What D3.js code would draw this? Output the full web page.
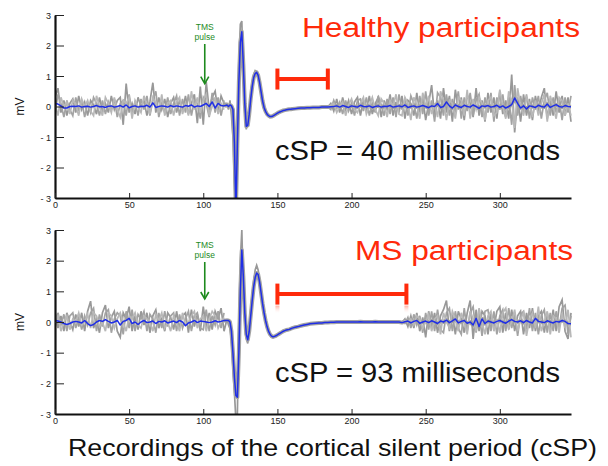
<!DOCTYPE html>
<html><head><meta charset="utf-8">
<script src="https://cdn.jsdelivr.net/npm/d3@7"></script>
<style>body{margin:0;background:#fff}svg{display:block}</style>
</head><body>
<svg id="c" width="608" height="466"></svg>
<script>
// ---------- data ----------
const xTicks = [0,50,100,150,200,250,300];
const yTicks = [-3,-2,-1,0,1,2,3];
const panelTitles = ["Healthy participants","MS participants"];
const cspLabels = ["cSP = 40 milliseconds","cSP = 93 milliseconds"];
const caption = "Recordings of the cortical silent period (cSP)";
const tmsTime = [101,101];
const barStart = [150,150];
const barEnd = [184,237];
const barLevel = [0.9,0.91];
const postStart = [186,236];

// sample grids (ms)
const preT = d3.range(0,116,2);
const mepT = d3.range(116,160,1);
const postT = d3.range(160,350,2);

// ---- Healthy ----
const hBluePre = [0.1,0.08,0.02,-0.05,-0.05,0.0,0.01,0.0,0.02,-0.02, 0.0,0.01,-0.02,0.0,0.03,-0.01,0.0,-0.03,0.01,0.02, -0.02,0.0,0.03,-0.02,0.05,-0.04,0.0,0.02,-0.02,0.01, 0.0,0.04,-0.02,0.12,-0.03,0.0,0.02,0.01,-0.02,0.03, -0.01,0.02,0.0,-0.02,0.03,0.01,0.05,-0.02,0.02,0.0, 0.05,0.1,0.0,0.15,-0.05,0.1,0.03,0.02];
const hBlueMep = [0.05,0.0,0.05,0.02,-0.1,-1.2,-3.5,-1.2,0.8,2.1, 2.45,1.4,0.1,-0.65,-0.62,-0.25,0.25,0.65,0.95,1.08, 1.12,1.02,0.78,0.48,0.18,-0.03,-0.16,-0.25,-0.3,-0.33, -0.33,-0.31,-0.28,-0.25,-0.22,-0.19,-0.17,-0.15,-0.13,-0.12, -0.11,-0.1,-0.09,-0.09];
const hBluePost = [-0.08,-0.07,-0.06,-0.05,-0.05,-0.04,-0.04,-0.03,-0.03,-0.03,-0.02,-0.02,-0.02,-0.01,0.0,0.02,-0.02,0.03,0.0,-0.03,
 0.02,0.0,-0.02,0.04,0.0,-0.01,0.02,-0.03,0.0,0.02,-0.02,0.01,0.0,0.03,-0.02,0.0,0.02,-0.01,0.05,-0.03,
 0.0,0.02,-0.02,0.0,0.03,0.0,-0.04,0.02,0.0,0.1,-0.03,0.0,0.15,0.02,-0.05,0.05,0.0,-0.03,0.04,0.0,
 -0.02,0.05,0.0,-0.06,0.02,0.0,0.03,-0.02,0.0,0.04,-0.03,0.02,-0.05,0.0,0.06,0.28,0.1,-0.05,0.02,-0.08,
 0.02,0.0,-0.03,0.04,0.0,-0.02,0.08,-0.03,0.02,0.06,0.0,-0.02,0.03,0.0,-0.01];
const hGrayMep = [0.1,-0.1,0.2,-0.3,-1.0,-2.5,-3.5,-0.5,1.5,2.7, 2.8,1.0,-0.2,-0.75,-0.5,-0.1,0.4,0.8,1.05,1.18, 1.15,0.95,0.7,0.4,0.1,-0.1,-0.2,-0.28,-0.33,-0.36, -0.35,-0.33,-0.3,-0.27,-0.24,-0.21,-0.18,-0.16,-0.14,-0.13, -0.12,-0.11,-0.1,-0.1];
const hGrayPreA = [0.3,0.6,-0.2,0.2,-0.3,0.1,0.25,-0.2,0.35,-0.1, 0.15,-0.3,0.2,0.05,-0.25,0.3,-0.15,0.1,-0.2,0.35, -0.1,0.2,0.3,-0.6,0.75,-0.2,0.1,-0.25,0.3,0.0, 0.2,-0.3,0.15,0.78,-0.2,0.3,-0.1,0.25,-0.35,0.1, 0.3,-0.2,0.2,-0.15,0.35,-0.25,0.1,0.4,-0.55,0.65, -0.6,0.8,-0.1,0.3,0.5,-0.2,0.35,0.1];
const hGrayPreB = [-0.2,0.4,0.1,-0.35,0.2,-0.1,-0.3,0.3,-0.15,0.2, -0.35,0.1,-0.2,0.3,0.1,-0.3,0.2,-0.25,0.15,-0.1, 0.25,-0.35,0.1,0.2,-0.3,0.4,-0.2,0.15,-0.3,0.25, -0.1,0.35,-0.3,0.2,0.5,-0.35,0.1,-0.2,0.3,-0.25, 0.1,0.35,-0.3,0.25,-0.2,0.4,-0.3,0.2,0.1,-0.4, 0.3,0.1,-0.35,0.45,-0.2,0.3,-0.3,0.2];
const hGrayPreC = [0.1,-0.3,0.3,0.0,0.15,-0.25,0.2,0.05,-0.3,0.25, 0.0,0.2,-0.15,-0.3,0.35,0.0,-0.3,0.3,0.1,-0.2, 0.3,-0.1,-0.35,0.2,0.1,0.3,-0.4,0.2,0.0,-0.2, 0.35,0.05,-0.25,0.3,0.1,-0.2,0.4,-0.3,0.1,0.2, -0.3,0.15,0.3,-0.25,0.1,-0.3,0.5,-0.1,0.3,-0.2, 0.2,0.4,-0.3,0.0,0.3,-0.25,0.1,-0.1];
const hGrayPostA = [0.1,-0.15,0.25,-0.2,0.3,-0.1,0.2,-0.25,0.15,0.3, -0.3,0.2,-0.1,0.35,-0.25,0.1,0.3,-0.35,0.2,-0.1, 0.4,-0.3,0.15,-0.2,0.35,-0.4,0.2,0.1,-0.3,0.45, -0.2,0.3,-0.45,0.1,0.7,-0.3,0.2,-0.4,0.6,-0.2, 0.35,-0.5,0.55,-0.1,0.3,-0.45,0.4,0.1,-0.35,0.6, -0.3,0.2,-0.5,0.45,-0.2,0.3,-0.4,0.5,-0.25,0.2, -0.4,1.05,-0.85,0.3,-0.5,0.4,-0.3,0.25,-0.45,0.35, -0.2,0.3,0.6,-0.4,0.2,-0.3,0.5,-0.2,0.35,-0.3, 0.3,-0.5];
const hGrayPostB = [-0.1,0.2,-0.05,0.15,-0.25,0.2,-0.15,0.1,-0.3,0.2, 0.25,-0.15,0.3,-0.3,0.1,-0.2,0.35,0.05,-0.3,0.25, -0.25,0.3,-0.35,0.4,-0.1,0.25,-0.3,0.35,0.1,-0.4, 0.35,-0.25,0.5,-0.3,0.2,-0.5,0.45,0.3,-0.3,0.4, -0.3,0.25,-0.2,0.5,-0.4,0.3,-0.15,0.45,-0.3,0.2, 0.4,-0.35,0.3,-0.2,0.45,-0.5,0.3,-0.1,0.4,-0.35, 0.3,-0.6,0.7,-0.3,0.35,-0.2,0.4,-0.4,0.3,-0.1, 0.35,-0.4,0.2,0.45,-0.3,0.3,-0.2,0.25,-0.45,0.3, -0.2,0.35];
const hGrayPostC = [0.05,0.1,-0.2,0.0,0.15,-0.3,0.05,0.25,-0.1,-0.2, 0.1,0.3,-0.25,0.0,0.3,-0.1,-0.3,0.25,0.1,-0.35, 0.2,0.0,0.4,-0.25,-0.3,0.3,0.1,-0.45,0.3,0.05, -0.4,0.45,0.0,0.35,-0.25,0.1,-0.35,0.5,0.2,-0.45, 0.2,0.1,-0.4,0.3,0.2,-0.3,0.55,-0.4,0.25,-0.1, 0.3,0.1,-0.45,0.2,0.3,-0.3,-0.2,0.55,0.0,-0.4, 0.5,0.2,-0.7,0.6,0.0,-0.3,0.3,0.1,-0.35,0.2, -0.3,0.1,0.4,-0.5,0.35,0.0,-0.4,0.3,0.2,-0.3, 0.1,-0.3];

// ---- MS ----
const mBluePre = [0.05,0.03,0.0,-0.05,-0.08,-0.05,0.0,0.02,0.0,-0.03, 0.05,-0.05,-0.12,-0.08,0.0,0.05,0.02,0.08,0.02,-0.03, 0.0,0.05,-0.1,0.02,0.05,0.12,-0.05,0.0,-0.08,0.0, 0.05,-0.02,0.0,0.03,-0.05,0.02,0.0,0.04,-0.03,0.0, 0.03,-0.02,0.05,0.0,-0.12,-0.03,0.0,0.05,-0.02,0.03, 0.02,0.0,-0.02,0.0,0.04,0.0,0.02,0.05];
const mBlueMep = [0.05,0.05,0.0,-0.3,-1.0,-1.8,-2.4,-2.45,-1.0,1.0, 2.35,1.5,0.3,-0.4,-0.58,-0.3,0.2,0.7,1.15,1.45, 1.6,1.55,1.3,0.95,0.6,0.3,0.05,-0.15,-0.3,-0.4, -0.46,-0.48,-0.47,-0.45,-0.42,-0.39,-0.36,-0.33,-0.3,-0.28, -0.26,-0.25,-0.24,-0.22];
const mBluePost = [-0.2,-0.17,-0.15,-0.12,-0.1,-0.08,-0.06,-0.05,-0.04,-0.03, -0.03,-0.02,-0.02,-0.01,-0.01,0.0,0.0,0.0,0.0,0.0, 0.0,0.0,0.0,0.01,0.0,0.0,0.0,0.0,0.01,0.0, 0.0,0.0,0.0,0.0,0.0,0.0,0.0,-0.02,0.01,0.03, -0.03,0.02,0.05,-0.04,0.0,0.03,-0.02,0.04,0.0,-0.05, 0.03,0.0,0.06,-0.02,0.04,0.1,-0.03,0.02,0.05,-0.04, 0.0,-0.1,0.12,-0.15,0.1,-0.05,0.03,0.0,-0.03,0.02, 0.05,0.0,-0.04,0.03,0.08,0.02,0.0,0.04,-0.02,0.05, 0.0,-0.03,0.12,0.02,0.0,-0.02,0.04,0.0,-0.03,0.02, 0.0,0.05,0.02,-0.05,-0.06];
const mGrayMep = [0.1,-0.1,-0.2,-0.6,-1.5,-2.3,-3.2,-3.0,0.0,2.0, 3.0,1.0,0.0,-0.55,-0.7,-0.2,0.4,0.9,1.35,1.7, 1.85,1.7,1.4,1.0,0.65,0.3,0.05,-0.15,-0.3,-0.42, -0.5,-0.52,-0.5,-0.46,-0.42,-0.38,-0.35,-0.32,-0.29,-0.27, -0.25,-0.24,-0.23,-0.21];
const mGrayPreA = [0.35,-0.2,0.2,-0.3,0.3,0.0,-0.25,0.25,-0.15,0.3, -0.3,0.35,0.68,-0.2,0.1,-0.35,0.3,0.55,-0.2,0.15, 0.35,-0.3,-0.5,0.3,0.1,0.5,-0.3,0.2,-0.25,0.35, -0.1,0.3,-0.35,0.2,0.4,-0.2,0.1,-0.3,0.3,0.15, -0.25,0.35,-0.2,0.2,0.3,-0.35,0.4,-0.15,0.25,-0.3, 0.5,-0.2,0.3,-0.25,0.35,0.1,0.45,-0.3];
const mGrayPreB = [-0.2,0.3,-0.1,0.25,-0.3,0.2,0.3,-0.2,0.15,-0.25, 0.2,-0.1,0.3,0.45,-0.3,0.25,-0.15,0.3,0.4,-0.35, 0.1,0.3,0.2,-0.4,0.35,-0.2,0.4,-0.3,0.25,0.1, 0.35,-0.3,0.25,0.1,-0.35,0.3,-0.2,0.35,-0.15,0.2, 0.3,-0.3,0.25,-0.2,0.1,0.35,-0.3,0.2,0.3,-0.2, -0.25,0.4,-0.3,0.2,-0.1,0.35,-0.2,0.3];
const mGrayPreC = [0.1,0.2,-0.3,0.0,0.2,-0.25,0.1,0.0,0.3,-0.1, 0.0,0.25,-0.2,0.3,0.2,-0.15,0.0,-0.3,0.3,0.2, -0.2,0.1,0.3,0.0,-0.3,0.2,0.1,0.3,-0.1,-0.2, 0.2,0.1,0.0,-0.3,0.25,0.05,0.3,-0.2,0.0,-0.3, 0.2,0.0,-0.3,0.3,-0.1,0.0,0.2,0.35,-0.2,0.1, 0.2,-0.3,0.1,0.35,0.2,-0.2,0.0,0.15];
const mGrayPostA = [0.1,-0.15,0.2,-0.2,0.3,-0.3,0.15,-0.5,0.35,-0.2, 0.3,-0.35,0.2,0.4,0.7,-0.3,0.25,-0.4,0.35,0.1, -0.35,0.3,0.7,-0.55,0.4,-0.3,0.35,0.2,-0.4,0.3, -0.2,0.35,0.5,-0.35,0.3,-0.25,0.4,-0.3,0.2,0.35, -0.4,0.3,-0.2,0.45,-0.3,0.2,0.35,-0.35,0.3,-0.2, 0.4,-0.3,0.5,0.72,-0.3,-0.55,0.3];
const mGrayPostB = [-0.05,0.15,-0.2,0.25,-0.1,0.2,-0.35,0.3,-0.25,0.35, -0.3,0.4,-0.25,-0.35,0.3,0.45,-0.3,0.35,-0.2,-0.4, 0.45,-0.3,0.3,0.5,-0.35,0.3,-0.45,0.35,0.4,-0.3, 0.35,-0.4,0.2,0.4,-0.3,0.45,-0.2,0.3,-0.45,0.25, 0.35,-0.25,0.45,-0.3,0.3,-0.4,0.2,0.4,-0.35,0.3, -0.3,0.35,-0.2,0.45,0.55,-0.4,0.2];
const mGrayPostC = [0.05,0.0,0.1,-0.1,0.2,0.1,-0.2,0.0,0.25,-0.3, 0.1,0.2,-0.4,0.3,0.0,-0.2,0.35,0.1,-0.3,0.3, 0.0,-0.4,0.35,0.1,-0.3,0.45,0.0,-0.4,0.2,0.35, -0.3,0.1,-0.35,0.3,0.45,-0.2,0.0,0.4,-0.3,0.1, 0.3,-0.45,0.1,0.3,-0.2,0.5,-0.3,0.0,0.35,-0.4, 0.2,0.1,-0.35,0.3,-0.2,0.4,-0.5];

// ---------- drawing ----------
const svg = d3.select("#c");
const x = d3.scaleLinear().domain([0,348]).range([55,571]);
const panels = [
  {top:15, bottom:198, blue:[hBluePre,hBlueMep,hBluePost], grayMep:hGrayMep,
   pre:[hGrayPreA,hGrayPreB,hGrayPreC], post:[hGrayPostA,hGrayPostB,hGrayPostC]},
  {top:230, bottom:414, blue:[mBluePre,mBlueMep,mBluePost], grayMep:mGrayMep,
   pre:[mGrayPreA,mGrayPreB,mGrayPreC], post:[mGrayPostA,mGrayPostB,mGrayPostC]}
];
const font = "'Liberation Sans', Arial, sans-serif";
const defs = svg.append("defs");
const grad = defs.append("linearGradient").attr("id","fade").attr("x1",0).attr("y1",0).attr("x2",0).attr("y2",1);
grad.append("stop").attr("offset","0%").attr("stop-color","#ff9a88").attr("stop-opacity",0.8);
grad.append("stop").attr("offset","100%").attr("stop-color","#ffffff").attr("stop-opacity",0);

const zip = (ts, vs) => ts.map((t,i)=>[t,vs[i]]);

panels.forEach((p, k) => {
  const y = d3.scaleLinear().domain([-3,3]).range([p.bottom, p.top]);
  const line = d3.line().x(d=>x(d[0])).y(d=>y(d[1]));
  const g = svg.append("g");
  const clipId = "clip"+k;
  defs.append("clipPath").attr("id",clipId).append("rect")
    .attr("x",x(0)).attr("y",y(3)).attr("width",x(348)-x(0)+2).attr("height",y(-3)-y(3));
  const plot = g.append("g").attr("clip-path",`url(#${clipId})`);

  const blueData = zip(preT,p.blue[0]).concat(zip(mepT,p.blue[1]), zip(postT,p.blue[2]));
  const grayCols = ["#989898","#a3a3a3","#b8b8b8"];
  p.pre.forEach((arr,j) => {
    let d = zip(preT,arr);
    if (j===0) d = d.concat(zip(mepT,p.grayMep));
    plot.append("path").attr("d",line(d)).attr("fill","none")
      .attr("stroke",grayCols[j]).attr("stroke-width",1.7);
  });
  plot.append("path").attr("d",line(blueData.filter(d=>d[0]>=114))).attr("fill","none")
    .attr("stroke","#a2a2a2").attr("stroke-width",4).attr("stroke-linejoin","round");
  p.post.forEach((arr,j) => {
    const ts = arr.map((_,i)=>postStart[k]+2*i);
    const d = [[postStart[k]-2, p.blue[2][(postStart[k]-2-160)/2]]].concat(zip(ts,arr));
    plot.append("path").attr("d",line(d)).attr("fill","none")
      .attr("stroke",grayCols[j]).attr("stroke-width",1.7);
  });
  plot.append("path").attr("d",line(blueData)).attr("fill","none")
    .attr("stroke","#1f2ee6").attr("stroke-width",1.5).attr("stroke-linejoin","round");

  const ya = g.append("g").attr("transform",`translate(${x(0)},0)`)
    .call(d3.axisLeft(y).tickValues(yTicks).tickSize(-9).tickSizeOuter(0).tickPadding(4)
      .tickFormat(v => v<0 ? "- "+Math.abs(v) : String(v)));
  const xa = g.append("g").attr("transform",`translate(0,${y(-3)})`)
    .call(d3.axisBottom(x).tickValues(xTicks).tickSize(-5).tickSizeOuter(0).tickPadding(4));
  [ya,xa].forEach(a => {
    a.select(".domain").attr("stroke","#111").attr("stroke-width",2.2);
    a.selectAll(".tick line").attr("stroke","#222").attr("stroke-width",1);
    a.selectAll("text").attr("font-family",font).attr("font-size",9).attr("fill","#222");
  });
  ya.selectAll(".tick text").attr("dy","0.35em");

  g.append("text").attr("transform",`translate(24,${y(0)}) rotate(-90)`)
    .attr("text-anchor","middle").attr("font-family",font).attr("font-size",12)
    .attr("fill","#111").text("mV");

  const tx = x(tmsTime[k]);
  const green = "#1e8a1e";
  g.append("text").attr("x",tx).attr("y",y(3)+ (k===0?15:18)).attr("text-anchor","middle")
    .attr("font-family",font).attr("font-size",8.5).attr("fill",green).text("TMS");
  g.append("text").attr("x",tx).attr("y",y(3)+(k===0?25:28)).attr("text-anchor","middle")
    .attr("font-family",font).attr("font-size",8.5).attr("fill",green).text("pulse");
  const a0 = y(3)+(k===0?29:32), a1 = y(0.75);
  g.append("line").attr("x1",tx).attr("x2",tx).attr("y1",a0).attr("y2",a1)
    .attr("stroke",green).attr("stroke-width",1.6);
  g.append("path").attr("d",`M${tx-4},${a1-7}L${tx},${a1}L${tx+4},${a1-7}`)
    .attr("fill","none").attr("stroke",green).attr("stroke-width",1.6);

  const red = "#ff2a0a";
  const by = y(barLevel[k]), bx0 = x(barStart[k]), bx1 = x(barEnd[k]);
  g.append("line").attr("x1",bx0).attr("x2",bx1).attr("y1",by).attr("y2",by)
    .attr("stroke",red).attr("stroke-width",4);
  [bx0,bx1].forEach(bx => {
    g.append("line").attr("x1",bx).attr("x2",bx).attr("y1",by-10.5).attr("y2",by+10.5)
      .attr("stroke",red).attr("stroke-width",4);
    if (k===1) g.append("rect").attr("x",bx-2).attr("y",by+11.5).attr("width",4).attr("height",8)
      .attr("fill","url(#fade)");
  });

  g.append("text").attr("x",k===0?302:355).attr("y",k===0?37:260)
    .attr("font-family",font).attr("font-size",27).attr("fill",red)
    .attr("textLength",k===0?278:218).attr("lengthAdjust","spacingAndGlyphs")
    .text(panelTitles[k]);
  g.append("text").attr("x",275).attr("y",k===0?160:382)
    .attr("font-family",font).attr("font-size",27).attr("fill","#111")
    .attr("textLength",285).attr("lengthAdjust","spacingAndGlyphs")
    .text(cspLabels[k]);
});

svg.append("text").attr("x",68).attr("y",456).attr("font-family",font)
  .attr("font-size",24).attr("fill","#111")
  .attr("textLength",529).attr("lengthAdjust","spacingAndGlyphs").text(caption);
</script>
</body></html>
